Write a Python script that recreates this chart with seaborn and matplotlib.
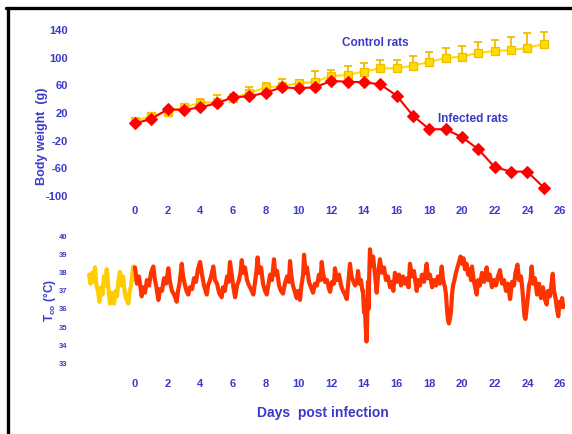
import numpy as np
import pandas as pd
import matplotlib
matplotlib.use("Agg")
import matplotlib.pyplot as plt
from matplotlib.lines import Line2D
import seaborn as sns

# ---- body weight (g) per day post infection ----
days = list(range(0, 26))
control_weight = [8, 16, 22, 28, 35, 36, 42, 49, 57, 59, 63, 65, 73.5, 75, 80, 84.6,
                  84.6, 88.4, 93.8, 99.5, 101.4, 107.2, 109.7, 110.7, 114.4, 119.8]
control_err = [2, 3, 3, 3, 5, 10, 6, 8, 6, 10, 5, 16, 9, 13, 12, 12,
               12, 14, 15, 15, 16, 16, 16, 19, 21, 18]
infected_weight = [5, 11.4, 25.4, 24.4, 28.3, 34, 42.7, 44.2, 49.4, 57.2, 55.7, 57.2,
                   66.3, 65.3, 64.4, 61.5, 45.1, 16.2, -3.5, -3.5, -15, -32.4,
                   -58.4, -64.7, -64.7, -87.9]

# ---- core body temperature trace (day, °C) ----
baseline_day = [-2.81, -2.72, -2.63, -2.54, -2.45, -2.36, -2.26, -2.18, -2.08, -1.99,
                -1.90, -1.80, -1.73, -1.65, -1.59, -1.53, -1.44, -1.38, -1.28, -1.19,
                -1.10, -1.01, -0.92, -0.83, -0.73, -0.64, -0.55, -0.41, -0.34, -0.24,
                -0.18, -0.10, -0.03, 0.00]
baseline_temp = [37.9, 37.4, 38.0, 37.5, 38.3, 37.3, 37.0, 36.4, 37.2, 36.8,
                 37.8, 37.3, 38.2, 37.4, 36.8, 36.3, 36.9, 36.5, 36.3, 37.0,
                 36.7, 37.6, 38.05, 37.3, 37.8, 37.0, 36.6, 36.3, 36.9, 37.3,
                 37.8, 38.35, 37.6, 37.9]

infected_day = [
    0.00, 0.12, 0.24, 0.41, 0.49, 0.61, 0.73, 0.86, 0.98, 1.12, 1.22, 1.31, 1.43, 1.53,
    1.65, 1.77, 1.90, 2.04, 2.14, 2.26, 2.39, 2.55, 2.63, 2.72, 2.86, 2.94, 3.06, 3.15,
    3.26, 3.36, 3.49, 3.61, 3.73, 3.85, 3.98, 4.10, 4.22, 4.39, 4.47, 4.59, 4.68, 4.79,
    4.89, 5.02, 5.14, 5.30, 5.38, 5.50, 5.63, 5.72, 5.81, 5.93, 6.02, 6.12, 6.24, 6.36,
    6.45, 6.53, 6.61, 6.73, 6.85, 6.97, 7.09, 7.24, 7.34, 7.43, 7.50, 7.58, 7.71, 7.83,
    7.95, 8.06, 8.17, 8.26, 8.38, 8.50, 8.59, 8.69, 8.81, 8.93, 9.05, 9.17, 9.30, 9.42,
    9.48, 9.57, 9.66, 9.79, 9.89, 9.97, 10.09, 10.18, 10.28, 10.34, 10.43, 10.52, 10.64,
    10.76, 10.89, 11.01, 11.13, 11.25, 11.35, 11.42, 11.50, 11.62, 11.74, 11.87, 11.93,
    12.05, 12.17, 12.23, 12.35, 12.48, 12.60, 12.72, 12.84, 12.95, 13.03, 13.15, 13.24,
    13.33, 13.46, 13.58, 13.64, 13.73, 13.82, 13.91, 13.94, 14.01, 14.05, 14.10, 14.16,
    14.20, 14.25, 14.28, 14.33, 14.37, 14.46, 14.56, 14.68, 14.78, 14.86, 14.98, 15.11,
    15.23, 15.35, 15.47, 15.60, 15.72, 15.80, 15.90, 16.02, 16.15, 16.27, 16.39, 16.51,
    16.64, 16.73, 16.82, 16.94, 17.06, 17.23, 17.31, 17.43, 17.55, 17.68, 17.84, 17.92,
    18.04, 18.17, 18.29, 18.41, 18.53, 18.65, 18.76, 18.84, 18.96, 19.02, 19.08, 19.14,
    19.20, 19.27, 19.33, 19.39, 19.45, 19.54, 19.63, 19.72, 19.82, 19.91, 20.00, 20.09,
    20.18, 20.28, 20.37, 20.46, 20.55, 20.61, 20.73, 20.90, 20.98, 21.10, 21.22, 21.35,
    21.51, 21.59, 21.71, 21.83, 21.96, 22.08, 22.20, 22.32, 22.45, 22.57, 22.69, 22.81,
    22.94, 23.06, 23.18, 23.27, 23.39, 23.49, 23.61, 23.70, 23.76, 23.82, 23.88, 23.94,
    24.01, 24.10, 24.19, 24.26, 24.34, 24.46, 24.59, 24.71, 24.83, 24.95, 25.08, 25.18,
    25.26, 25.38, 25.55, 25.63, 25.72, 25.81, 25.89, 25.96, 26.06, 26.12, 26.20]
infected_temp = [
    38.3, 37.4, 37.8, 36.7, 37.2, 36.9, 37.6, 37.3, 38.0, 38.35, 37.6, 37.2, 36.5, 37.1,
    37.0, 37.7, 37.4, 38.25, 37.5, 37.0, 36.8, 36.4, 37.0, 37.4, 38.5, 37.8, 37.3, 37.0,
    36.8, 37.2, 37.1, 37.7, 37.5, 38.2, 38.6, 37.9, 37.3, 36.8, 37.3, 37.6, 37.9, 38.35,
    37.6, 37.4, 36.9, 36.65, 37.2, 37.0, 37.8, 37.5, 38.6, 37.8, 37.2, 36.65, 37.3, 37.6,
    38.0, 38.7, 38.0, 38.3, 37.6, 37.3, 37.1, 36.8, 37.5, 38.1, 38.85, 38.0, 38.3, 37.4,
    37.0, 36.8, 37.4, 37.9, 37.6, 38.75, 37.9, 38.1, 37.3, 37.0, 36.85, 37.4, 37.8, 37.5,
    38.65, 37.8, 37.3, 36.9, 36.6, 37.0, 36.5, 37.3, 37.9, 39.0, 38.0, 38.3, 37.5,
    37.2, 36.9, 37.4, 37.3, 37.9, 37.6, 38.6, 38.0, 37.5, 37.6, 37.1, 36.95,
    37.5, 37.4, 38.25, 37.6, 37.9, 37.3, 37.0, 36.8, 36.55, 37.3, 38.5, 37.8,
    37.6, 37.3, 37.5, 38.1, 37.4, 37.6, 37.0, 37.0, 35.8, 36.5, 35.2, 34.2,
    35.4, 37.5, 36.0, 38.0, 39.3, 38.4, 38.9, 37.9, 36.9, 37.8, 38.75, 38.0,
    38.3, 37.6, 37.8, 37.2, 37.5, 37.0, 38.0, 37.5, 37.9, 37.3, 37.8, 37.4,
    37.7, 37.2, 38.5, 37.8, 38.1, 37.0, 37.6, 37.3, 37.9, 37.5, 38.5, 37.7,
    37.9, 37.2, 37.6, 37.3, 37.8, 37.4, 38.35, 37.6, 37.2, 36.8, 36.0, 35.4,
    35.2, 35.5, 35.9, 36.8, 37.3, 37.6, 38.0, 38.3, 38.6, 38.9, 38.5, 38.8,
    38.2, 38.5, 37.9, 38.2, 37.6, 38.35, 37.5, 36.8, 37.6, 37.3, 38.0, 37.5,
    38.3, 37.6, 37.9, 37.2, 37.6, 37.3, 37.8, 38.15, 37.4, 37.6, 37.0, 37.4,
    36.55, 37.5, 37.3, 38.0, 38.45, 37.6, 37.8, 37.0, 36.3, 35.6, 35.45, 35.9,
    36.5, 37.3, 37.6, 38.35, 37.4, 37.7, 36.8, 37.4, 36.6, 37.2, 36.5, 36.25,
    37.0, 36.7, 37.95, 37.0, 36.6, 36.0, 35.6, 36.4, 36.1, 36.6, 36.1]

x_ticks = list(range(0, 27, 2))
weight_ticks = [-100, -60, -20, 20, 60, 100, 140]
temp_ticks = [33, 34, 35, 36, 37, 38, 39, 40]

# ---- style ----
sns.set_style("white")
plt.rcParams["font.family"] = ["Liberation Sans", "DejaVu Sans"]
plt.rcParams["font.weight"] = "bold"
plt.rcParams["axes.unicode_minus"] = False
plt.rcParams["mathtext.fontset"] = "custom"
plt.rcParams["mathtext.rm"] = "Liberation Sans:bold"
plt.rcParams["mathtext.it"] = "Liberation Sans:bold"
plt.rcParams["mathtext.default"] = "rm"

BLUE = "#3a3ac8"
GOLD = "#ffdd00"
GOLD_EDGE = "#f2bb00"
RED = "#ff0000"
TRACE_RED = "#ff3300"
TRACE_GOLD = "#ffcc00"

W, H = 572, 434
fig = plt.figure(figsize=(W / 100, H / 100), dpi=100)

px_per_day = 16.35
x_left_px, x_right_px, day0_px = 80, 565, 135
xlim = ((x_left_px - day0_px) / px_per_day, (x_right_px - day0_px) / px_per_day)

ax1 = fig.add_axes([x_left_px / W, 1 - 202.9 / H, (x_right_px - x_left_px) / W, 179.8 / H])
ax2 = fig.add_axes([x_left_px / W, 1 - 372.3 / H, (x_right_px - x_left_px) / W, 144.7 / H])

# ---- body weight panel ----
bw = pd.DataFrame({"day": days, "control": control_weight, "infected": infected_weight})

ax1.errorbar(days, control_weight, yerr=[np.zeros(len(control_err)), control_err],
             fmt="none", ecolor=GOLD_EDGE, elinewidth=1.3, capsize=3, capthick=1.3, zorder=2)
sns.lineplot(data=bw, x="day", y="control", ax=ax1, color=GOLD, lw=1.5,
             marker="s", markersize=6.3, markerfacecolor=GOLD, markeredgecolor=GOLD_EDGE,
             markeredgewidth=0.9, zorder=3)
sns.lineplot(data=bw, x="day", y="infected", ax=ax1, color=RED, lw=1.5,
             marker="D", markersize=6.3, markerfacecolor=RED, markeredgecolor=RED, zorder=4)

ax1.text(12.66, 121, "Control rats", color=BLUE, fontsize=8.5, fontweight="bold",
         ha="left", va="center")
ax1.text(18.53, 11, "Infected rats", color=BLUE, fontsize=8.5, fontweight="bold",
         ha="left", va="center")

ax1.set_xlim(*xlim)
ax1.set_ylim(-110, 150)
ax1.set_yticks(weight_ticks)
ax1.set_xticks(x_ticks)
ax1.set_xlabel("")
ax1.set_ylabel("")
ax1.tick_params(axis="both", length=0, labelsize=8, labelcolor=BLUE)
ax1.tick_params(axis="y", pad=8.5)
ax1.tick_params(axis="x", pad=2)

# ---- temperature panel ----
base = pd.DataFrame({"day": baseline_day, "temp": baseline_temp})
inf = pd.DataFrame({"day": infected_day, "temp": infected_temp})
sns.lineplot(data=base, x="day", y="temp", ax=ax2, color=TRACE_GOLD, lw=3.0,
             sort=False, estimator=None)
sns.lineplot(data=inf, x="day", y="temp", ax=ax2, color=TRACE_RED, lw=3.0,
             sort=False, estimator=None)

ax2.set_xlim(*xlim)
ax2.set_ylim(32.5, 40.5)
ax2.set_yticks(temp_ticks)
ax2.set_xticks(x_ticks)
ax2.set_xlabel("")
ax2.set_ylabel("")
ax2.tick_params(axis="both", length=0, labelcolor=BLUE)
ax2.tick_params(axis="y", labelsize=5.5, pad=9)
ax2.tick_params(axis="x", labelsize=8, pad=4.5)

for ax in (ax1, ax2):
    sns.despine(ax=ax, left=True, bottom=True)
    for lab in ax.get_xticklabels() + ax.get_yticklabels():
        lab.set_fontweight("bold")

# ---- axis titles ----
fig.text(42 / W, 1 - 136 / H, "Body weight  (g)", rotation=90, color=BLUE,
         fontsize=9, fontweight="bold", ha="center", va="center")
fig.text(50 / W, 1 - 301 / H, r"T$_{co}$ (°C)", rotation=90, color=BLUE,
         fontsize=8.5, fontweight="bold", ha="center", va="center")
fig.text(323 / W, 1 - 413 / H, "Days  post infection", color=BLUE,
         fontsize=10, fontweight="bold", ha="center", va="center")

# ---- frame lines along the top and left edges ----
fig.add_artist(Line2D([6 / W, 1], [1 - 8 / H, 1 - 8 / H], color="black", lw=2.4,
                      transform=fig.transFigure))
fig.add_artist(Line2D([7.5 / W, 7.5 / W], [0, 1 - 8 / H], color="black", lw=2.4,
                      transform=fig.transFigure))

fig.savefig("out.png", dpi=100)
